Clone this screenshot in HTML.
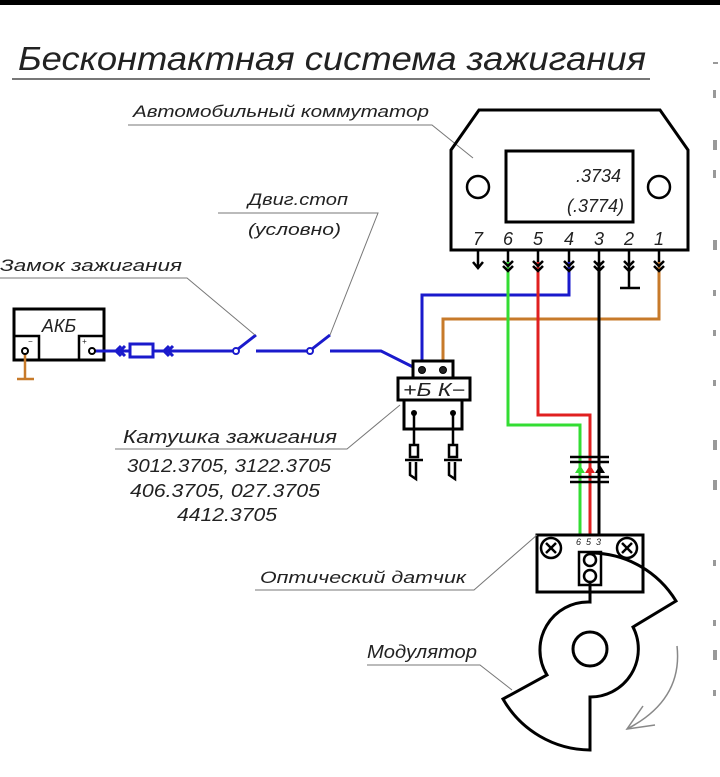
<!DOCTYPE html>
<html><head><meta charset="utf-8"><style>
html,body{margin:0;padding:0;background:#fff;width:720px;height:777px;overflow:hidden}
svg{display:block}
text{font-family:"Liberation Sans","DejaVu Sans",sans-serif;font-style:italic;fill:#222}
</style></head><body>
<svg width="720" height="777" viewBox="0 0 720 777" xmlns="http://www.w3.org/2000/svg">
<rect x="0" y="0" width="720" height="5" fill="#000"/>
<!-- Title -->
<text x="18" y="70" font-size="33" textLength="628" lengthAdjust="spacingAndGlyphs">Бесконтактная система зажигания</text>
<line x1="12" y1="79" x2="650" y2="79" stroke="#777" stroke-width="2"/>
<!-- right edge faint marks -->
<g fill="#999"><rect x="713" y="62" width="5" height="2"/><rect x="713" y="90" width="3" height="8"/><rect x="713" y="140" width="4" height="10"/><rect x="713" y="170" width="3" height="8"/><rect x="713" y="240" width="4" height="10"/><rect x="713" y="290" width="3" height="6"/><rect x="713" y="330" width="3" height="6"/><rect x="713" y="380" width="3" height="6"/><rect x="713" y="440" width="4" height="10"/><rect x="713" y="480" width="4" height="10"/><rect x="713" y="560" width="3" height="6"/><rect x="713" y="620" width="3" height="6"/><rect x="713" y="650" width="4" height="10"/><rect x="713" y="690" width="3" height="6"/></g>

<!-- Commutator -->
<text x="133" y="117" font-size="17" textLength="296" lengthAdjust="spacingAndGlyphs">Автомобильный коммутатор</text>
<polyline points="128,125 432,125 473,158" fill="none" stroke="#777" stroke-width="1"/>
<polygon points="479,110 660,110 688,150 688,250 451,250 451,150" fill="none" stroke="#000" stroke-width="3"/>
<rect x="506" y="151" width="127" height="71" fill="none" stroke="#000" stroke-width="3"/>
<circle cx="478" cy="187" r="11" fill="none" stroke="#000" stroke-width="2.5"/>
<circle cx="659" cy="187" r="11" fill="none" stroke="#000" stroke-width="2.5"/>
<text x="621" y="182" font-size="18" text-anchor="end">.3734</text>
<text x="624" y="212" font-size="18" text-anchor="end">(.3774)</text>
<g font-size="18" text-anchor="middle">
<text x="478" y="245">7</text><text x="508" y="245">6</text><text x="538" y="245">5</text><text x="569" y="245">4</text><text x="599" y="245">3</text><text x="629" y="245">2</text><text x="659" y="245">1</text></g>

<!-- colored wires -->
<g fill="none" stroke-width="3">
<polyline points="569,262 569,295 422,295 422,370" stroke="#1a1acc"/>
<polyline points="659,262 659,319 443,319 443,370" stroke="#c77a2a"/>
<polyline points="508,262 508,425 580,425 580,540" stroke="#33dd33"/>
<polyline points="538,262 538,415 590,415 590,540" stroke="#e02020"/>
<polyline points="599,262 599,540" stroke="#000"/>
</g>
<!-- pins -->
<g stroke="#000" stroke-width="2.5" fill="none">
<line x1="478" y1="250" x2="478" y2="268"/><polyline points="473,262 478,268 483,262"/>
<line x1="508" y1="250" x2="508" y2="262"/><polyline points="503,261 508,266 513,261"/><polyline points="503,266 508,271 513,266"/>
<line x1="538" y1="250" x2="538" y2="262"/><polyline points="533,261 538,266 543,261"/><polyline points="533,266 538,271 543,266"/>
<line x1="569" y1="250" x2="569" y2="262"/><polyline points="564,261 569,266 574,261"/><polyline points="564,266 569,271 574,266"/>
<polyline points="594,261 599,266 604,261"/><polyline points="594,266 599,271 604,266"/><line x1="599" y1="250" x2="599" y2="262"/>
<line x1="629" y1="250" x2="629" y2="288"/><polyline points="624,261 629,266 634,261"/><polyline points="624,266 629,271 634,266"/><line x1="620" y1="288" x2="640" y2="288"/>
<line x1="659" y1="250" x2="659" y2="262"/><polyline points="654,261 659,266 664,261"/><polyline points="654,266 659,271 664,266"/>
</g>

<!-- Battery -->
<rect x="14" y="309" width="90" height="51" fill="none" stroke="#000" stroke-width="3"/>
<rect x="14" y="336" width="25" height="24" fill="none" stroke="#000" stroke-width="2.5"/>
<rect x="79" y="336" width="25" height="24" fill="none" stroke="#000" stroke-width="2.5"/>
<text x="59" y="332" font-size="18" text-anchor="middle">АКБ</text>
<text x="28" y="344" font-size="8">−</text><text x="82" y="344" font-size="8">+</text>
<line x1="25" y1="351" x2="25" y2="378" stroke="#c77a2a" stroke-width="2.5"/>
<line x1="17" y1="379" x2="34" y2="379" stroke="#c77a2a" stroke-width="2.5"/>
<circle cx="25" cy="351" r="3" fill="#fff" stroke="#000" stroke-width="2"/>
<!-- blue supply line -->
<g stroke="#1a1acc" stroke-width="3" fill="none">
<line x1="93" y1="351" x2="233" y2="351"/>
<rect x="130" y="344" width="23" height="13" fill="#fff"/>
<polyline points="121,346 116,351 121,356"/><polyline points="125,346 120,351 125,356"/>
<polyline points="169,346 164,351 169,356"/><polyline points="173,346 168,351 173,356"/>
<line x1="238" y1="349" x2="256" y2="335"/>
<line x1="256" y1="351" x2="307" y2="351"/>
<line x1="312" y1="349" x2="330" y2="335"/>
<polyline points="330,351 381,351 419,370"/>
</g>
<circle cx="92" cy="351" r="3" fill="#fff" stroke="#000" stroke-width="2"/>
<circle cx="236" cy="351" r="3" fill="#fff" stroke="#1a1acc" stroke-width="2"/>
<circle cx="310" cy="351" r="3" fill="#fff" stroke="#1a1acc" stroke-width="2"/>

<!-- labels switches -->
<text x="0" y="271" font-size="17" textLength="182" lengthAdjust="spacingAndGlyphs">Замок зажигания</text>
<polyline points="0,278 187,278 255,335" fill="none" stroke="#777" stroke-width="1"/>
<text x="248" y="205" font-size="17" textLength="100" lengthAdjust="spacingAndGlyphs">Двиг.стоп</text>
<text x="248" y="235" font-size="17" textLength="93" lengthAdjust="spacingAndGlyphs">(условно)</text>
<polyline points="218,213 378,213 330,335" fill="none" stroke="#777" stroke-width="1"/>

<!-- Coil -->
<rect x="413" y="361" width="40" height="17" fill="#fff" stroke="#000" stroke-width="3"/>
<circle cx="422" cy="370" r="3.5" fill="#222" stroke="#000"/>
<circle cx="443" cy="370" r="3.5" fill="#222" stroke="#000"/>
<rect x="398" y="378" width="72" height="22" fill="#fff" stroke="#000" stroke-width="3"/>
<text x="434" y="396" font-size="18" text-anchor="middle" textLength="62" lengthAdjust="spacingAndGlyphs">+Б К−</text>
<rect x="404" y="400" width="58" height="29" fill="none" stroke="#000" stroke-width="3"/>
<g stroke="#000" stroke-width="2.5" fill="none">
<line x1="414" y1="413" x2="414" y2="445"/><line x1="453" y1="413" x2="453" y2="445"/>
<rect x="410" y="445" width="8" height="12"/><rect x="449" y="445" width="8" height="12"/>
<line x1="405" y1="460" x2="423" y2="460"/><line x1="444" y1="460" x2="462" y2="460"/>
<polyline points="410,462 410,475 416,479 416,462"/><polyline points="449,462 449,475 455,479 455,462"/>
</g>
<circle cx="414" cy="413" r="3" fill="#000"/><circle cx="453" cy="413" r="3" fill="#000"/>
<text x="123" y="443" font-size="18" textLength="214" lengthAdjust="spacingAndGlyphs">Катушка зажигания</text>
<polyline points="115,449 347,449 400,405" fill="none" stroke="#777" stroke-width="1"/>
<text x="127" y="472" font-size="18" textLength="204" lengthAdjust="spacingAndGlyphs">3012.3705, 3122.3705</text>
<text x="130" y="497" font-size="18" textLength="190" lengthAdjust="spacingAndGlyphs">406.3705, 027.3705</text>
<text x="177" y="521" font-size="18" textLength="100" lengthAdjust="spacingAndGlyphs">4412.3705</text>

<!-- connector -->
<g stroke="#000" stroke-width="2.5">
<line x1="570" y1="457" x2="609" y2="457"/><line x1="570" y1="462" x2="609" y2="462"/>
<line x1="570" y1="477" x2="609" y2="477"/><line x1="570" y1="482" x2="609" y2="482"/>
</g>
<polygon points="575,473 580,465 585,473" fill="#33dd33"/>
<polygon points="585,473 590,465 595,473" fill="#e02020"/>
<polygon points="595,473 600,465 605,473" fill="#000"/>

<!-- Sensor -->
<rect x="537" y="535" width="106" height="57" fill="#fff" stroke="#000" stroke-width="3"/>
<g stroke="#000" stroke-width="2.5" fill="none">
<circle cx="551" cy="548" r="10"/><line x1="546" y1="543" x2="556" y2="553"/><line x1="556" y1="543" x2="546" y2="553"/>
<circle cx="627" cy="548" r="10"/><line x1="622" y1="543" x2="632" y2="553"/><line x1="632" y1="543" x2="622" y2="553"/>
<rect x="579" y="552" width="22" height="33"/>
<circle cx="590" cy="560" r="6"/><circle cx="590" cy="576" r="6"/>
</g>
<g font-size="9"><text x="576" y="545">6</text><text x="586" y="545">5</text><text x="596" y="545">3</text></g>
<text x="260" y="583" font-size="17" textLength="206" lengthAdjust="spacingAndGlyphs">Оптический датчик</text>
<polyline points="255,590 474,590 537,535" fill="none" stroke="#777" stroke-width="1"/>

<!-- Modulator -->
<path d="M590,582 L590,602 A48,48 0 0 0 547,675 L503,699 A101,101 0 0 0 590,750 L590,697 A48,48 0 0 0 633,627 L676,601 A100,100 0 0 0 592,553" fill="none" stroke="#000" stroke-width="3"/>
<circle cx="590" cy="649" r="17" fill="none" stroke="#000" stroke-width="3"/>
<text x="367" y="658" font-size="18" textLength="110" lengthAdjust="spacingAndGlyphs">Модулятор</text>
<polyline points="367,665 480,665 512,690" fill="none" stroke="#777" stroke-width="1"/>
<path d="M677,646 Q683,700 627,729" fill="none" stroke="#888" stroke-width="1.5"/>
<polyline points="643,706 627,729 655,725" fill="none" stroke="#888" stroke-width="1.5"/>
</svg>
</body></html>
